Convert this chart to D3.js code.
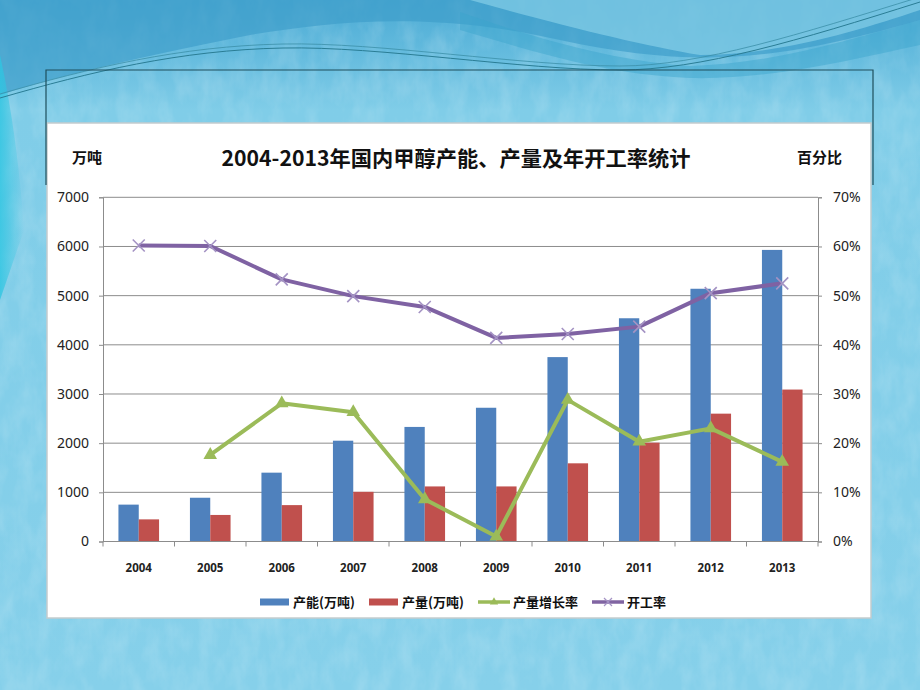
<!DOCTYPE html>
<html><head><meta charset="utf-8">
<script src="https://cdn.jsdelivr.net/npm/d3@7"></script>
<style>html,body{margin:0;padding:0;background:#7fcbe6;}svg{display:block;}</style>
</head><body>
<svg id="c" width="920" height="690"></svg>
<script>
const years = ["2004","2005","2006","2007","2008","2009","2010","2011","2012","2013"];
const capacity = [750, 890, 1400, 2050, 2330, 2720, 3750, 4540, 5140, 5930];
const output = [450, 540, 740, 1010, 1120, 1120, 1590, 2010, 2600, 3090];
const growthRate = [null, 0.176, 0.281, 0.263, 0.086, 0.010, 0.288, 0.203, 0.230, 0.162];
const utilization = [0.602, 0.601, 0.533, 0.499, 0.477, 0.414, 0.422, 0.437, 0.505, 0.525];
const leftTicks = [0,1000,2000,3000,4000,5000,6000,7000];
const rightTicks = [0,0.1,0.2,0.3,0.4,0.5,0.6,0.7];
const seriesNames = ["产能(万吨)","产量(万吨)","产量增长率","开工率"];
const title = "2004-2013年国内甲醇产能、产量及年开工率统计";

const svg = d3.select("#c");
const defs = svg.append("defs");
// background
const bg = defs.append("linearGradient").attr("id","bg").attr("x1",0).attr("y1",0).attr("x2",0).attr("y2",1);
bg.append("stop").attr("offset","0").attr("stop-color","#4aaad4");
bg.append("stop").attr("offset","0.16").attr("stop-color","#80cde8");
bg.append("stop").attr("offset","1").attr("stop-color","#86d0ea");
const f = defs.append("filter").attr("id","tex").attr("x",0).attr("y",0).attr("width",1).attr("height",1);
f.append("feTurbulence").attr("type","fractalNoise").attr("baseFrequency","0.06 0.03").attr("numOctaves",4).attr("seed",7).attr("result","n");
f.append("feColorMatrix").attr("in","n").attr("type","matrix")
  .attr("values","0 0 0 0 1  0 0 0 0 1  0 0 0 0 1  0 0 0 0.28 -0.1");
const lcg = defs.append("linearGradient").attr("id","lc").attr("x1",0).attr("y1",0).attr("x2",1).attr("y2",0);
lcg.append("stop").attr("offset","0").attr("stop-color","#2ec6e2").attr("stop-opacity",0.8);
lcg.append("stop").attr("offset","1").attr("stop-color","#2ec6e2").attr("stop-opacity",0);
svg.append("rect").attr("width",920).attr("height",690).attr("fill","url(#bg)");
svg.append("rect").attr("width",920).attr("height",690).attr("filter","url(#tex)");
// darker top band
svg.append("path").attr("d","M0,0 H920 V20 C780,60 700,70 560,40 C430,10 330,22 250,35 C150,55 60,75 0,95 Z").attr("fill","#3f9ecb").attr("opacity",0.7);
// left cyan edge
svg.append("path").attr("d","M0,55 C12,110 20,170 24,230 L0,300 Z").attr("fill","url(#lc)");
// light swoosh top right
svg.append("path").attr("d","M470,0 C560,25 640,45 700,55 C780,55 860,30 920,10 V0 Z").attr("fill","#9ee0f2").attr("opacity",0.5);
svg.append("path").attr("d","M460,12 C540,40 620,62 690,66 C770,64 850,40 920,20 V45 C850,60 770,80 690,78 C600,74 530,50 460,30 Z").attr("fill","#3aa4cc").attr("opacity",0.45);
// thin dark curves
svg.append("path").attr("d","M0,98 C90,72 180,50 283,48 C380,46 520,70 620,70 C700,70 800,40 920,2").attr("fill","none").attr("stroke","#2a7d95").attr("stroke-width",1);
svg.append("path").attr("d","M0,94 C90,68 180,46 283,44 C380,42 520,66 620,66 C700,66 800,34 920,-3").attr("fill","none").attr("stroke","#3b8fa8").attr("stroke-width",0.8);

// chart panel
svg.append("rect").attr("x",47).attr("y",123).attr("width",824).attr("height",495).attr("fill","#ffffff").attr("stroke","#c3ccce").attr("stroke-width",1.5);

const x = d3.scaleBand().domain(years).range([103, 818]);
const xi = d3.scaleBand().domain(["cap","out"]).range([0, x.bandwidth()]).paddingInner(0).paddingOuter(0.76);
const yL = d3.scaleLinear().domain([0,7000]).range([541.5,197.3]);
const yR = d3.scaleLinear().domain([0,0.7]).range([541.5,197.3]);

// gridlines
svg.append("g").selectAll("line").data(leftTicks.slice(1)).join("line")
  .attr("x1",103).attr("x2",818).attr("y1",d=>yL(d)).attr("y2",d=>yL(d))
  .attr("stroke","#8c8c8c").attr("stroke-width",1);

// axes
const axL = svg.append("g").attr("transform","translate(103,0)")
  .call(d3.axisLeft(yL).tickValues(leftTicks).tickSize(4).tickPadding(10).tickFormat(d3.format("d")));
const axR = svg.append("g").attr("transform","translate(818,0)")
  .call(d3.axisRight(yR).tickValues(rightTicks).tickSize(4).tickPadding(11).tickFormat(d3.format(".0%")));
[axL, axR].forEach(a=>{
  a.select(".domain").attr("stroke","#8c8c8c");
  a.selectAll(".tick line").attr("stroke","#8c8c8c");
  a.selectAll("text").attr("font-family","'Noto Sans', sans-serif").attr("font-size",14).attr("fill","#222");
});

// bars
const bars = svg.append("g");
bars.selectAll(".cap").data(years).join("rect").attr("class","cap")
  .attr("x",(d)=>x(d)+xi("cap")).attr("width",xi.bandwidth())
  .attr("y",(d,i)=>yL(capacity[i])).attr("height",(d,i)=>yL(0)-yL(capacity[i]))
  .attr("fill","#4f81bd");
bars.selectAll(".out").data(years).join("rect").attr("class","out")
  .attr("x",(d)=>x(d)+xi("out")).attr("width",xi.bandwidth())
  .attr("y",(d,i)=>yL(output[i])).attr("height",(d,i)=>yL(0)-yL(output[i]))
  .attr("fill","#c0504d");

// x axis
const axB = svg.append("g").attr("transform",`translate(0,${yL(0)})`);
axB.append("line").attr("x1",103).attr("x2",818).attr("stroke","#8c8c8c");
const bounds = years.map(d=>x(d)).concat([x.range()[1]]);
axB.selectAll(".tk").data(bounds).join("line").attr("class","tk")
  .attr("x1",d=>d).attr("x2",d=>d).attr("y1",0).attr("y2",5).attr("stroke","#8c8c8c");
axB.selectAll("text").data(years).join("text")
  .attr("x",d=>x(d)+x.bandwidth()/2).attr("y",30.5).attr("text-anchor","middle")
  .attr("font-family","'Noto Sans', sans-serif").attr("font-weight","bold").attr("font-size",11.5).attr("fill","#222")
  .text(d=>d);

const cx = d => x(d)+x.bandwidth()/2;
// utilization line
const lineU = d3.line().x((d,i)=>cx(years[i])).y(d=>yR(d));
svg.append("path").attr("d",lineU(utilization)).attr("fill","none").attr("stroke","#7f62a3").attr("stroke-width",4).attr("stroke-linejoin","round");
svg.append("g").selectAll("path").data(utilization).join("path")
  .attr("transform",(d,i)=>`translate(${cx(years[i])},${yR(d)})`)
  .attr("d","M-6,-6 L6,6 M-6,6 L6,-6").attr("stroke","#a493c4").attr("stroke-width",1.6).attr("fill","none");

// growth line
const lineG = d3.line().defined(d=>d!==null).x((d,i)=>cx(years[i])).y(d=>yR(d));
svg.append("path").attr("d",lineG(growthRate)).attr("fill","none").attr("stroke","#9bbb59").attr("stroke-width",4).attr("stroke-linejoin","round");
const tri = d3.symbol().type(d3.symbolTriangle).size(80);
svg.append("g").selectAll("path").data(growthRate.map((v,i)=>({v,i})).filter(d=>d.v!==null)).join("path")
  .attr("transform",d=>`translate(${cx(years[d.i])},${yR(d.v)})`)
  .attr("d",tri()).attr("fill","#9bbb59");

// titles
svg.append("text").attr("x",456).attr("y",166).attr("text-anchor","middle")
  .attr("font-family","'Noto Sans CJK SC', sans-serif").attr("font-weight","bold").attr("font-size",21).attr("fill","#111")
  .attr("textLength",469).attr("lengthAdjust","spacingAndGlyphs").text(title);
svg.append("text").attr("x",72).attr("y",163).attr("font-family","'Noto Sans CJK SC', sans-serif").attr("font-weight","bold").attr("font-size",15).attr("fill","#111").text("万吨");
svg.append("text").attr("x",797).attr("y",163).attr("font-family","'Noto Sans CJK SC', sans-serif").attr("font-weight","bold").attr("font-size",15).attr("fill","#111").text("百分比");

// legend
const leg = svg.append("g");
const legX = [260, 369, 478, 592];
const legColors = ["#4f81bd","#c0504d","#9bbb59","#8064a2"];
seriesNames.forEach((n,i)=>{
  const g = leg.append("g").attr("transform",`translate(${legX[i]},602)`);
  if(i<2){
    g.append("rect").attr("x",0).attr("y",-3.5).attr("width",29).attr("height",7).attr("fill",legColors[i]);
  } else {
    g.append("line").attr("x1",0).attr("x2",32).attr("stroke",legColors[i]).attr("stroke-width",3.5);
    if(i===2) g.append("path").attr("transform","translate(16,0)").attr("d",d3.symbol().type(d3.symbolTriangle).size(30)()).attr("fill",legColors[i]);
    else g.append("path").attr("d","M12,-4 L20,4 M12,4 L20,-4").attr("stroke","#a493c4").attr("stroke-width",1.2);
  }
  g.append("text").attr("x",i<2?33:35).attr("y",5).attr("font-family","'Noto Sans CJK SC', sans-serif").attr("font-weight","bold").attr("font-size",13).attr("fill","#111").text(n);
});

// dark outline box (title placeholder)
svg.append("path").attr("d","M46,185 V70 H873 V185").attr("fill","none").attr("stroke","#1f4f5c").attr("stroke-width",1.2);
</script>
</body></html>
